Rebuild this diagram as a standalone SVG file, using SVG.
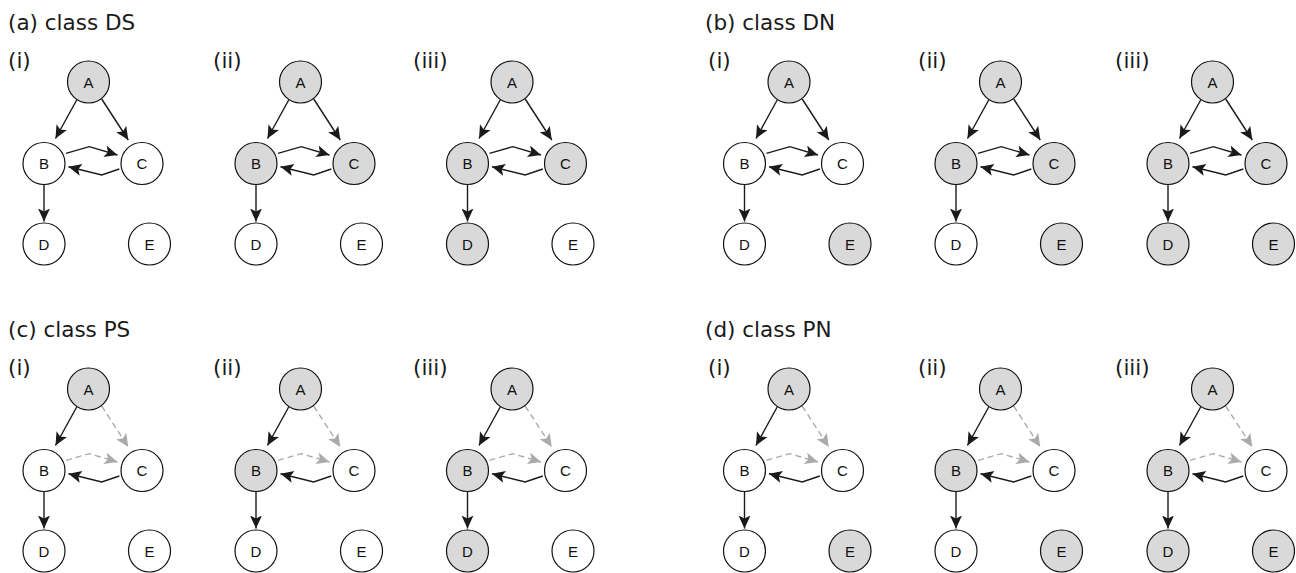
<svg xmlns="http://www.w3.org/2000/svg" xmlns:xlink="http://www.w3.org/1999/xlink" width="1296" height="573" viewBox="0 0 1296 573">
<defs>
<style>
.n circle{stroke:#111;stroke-width:1.2;fill:#fff}
.n.g circle{fill:#d9d9d9}
.n text{font-family:"Liberation Sans",Arial,sans-serif;font-size:15px;text-anchor:middle;fill:#111}
.e{fill:none;stroke:#1a1a1a;stroke-width:1.4;marker-end:url(#arr)}
.e.d{stroke:#aaaaaa;stroke-dasharray:6 4;marker-end:url(#arrg)}
.t{font-family:"DejaVu Sans",Verdana,sans-serif;font-size:21.5px;fill:#1a1a1a}
.s{font-family:"DejaVu Sans",Verdana,sans-serif;font-size:21.5px;fill:#1a1a1a}
</style>
<marker id="arr" markerUnits="userSpaceOnUse" markerWidth="16" markerHeight="14" refX="13" refY="6" orient="auto">
<path d="M0,0 L13,6 L0,12 L3,6 z" fill="#1a1a1a"/>
</marker>
<marker id="arrg" markerUnits="userSpaceOnUse" markerWidth="16" markerHeight="14" refX="13" refY="6" orient="auto">
<path d="M0,0 L13,6 L0,12 L3,6 z" fill="#aaaaaa"/>
</marker>
</defs>
<rect width="1296" height="573" fill="#fff"/>
<g id="titles">
<text class="t" x="8" y="30">(a) class DS</text>
<text class="t" x="705" y="30">(b) class DN</text>
<text class="t" x="8" y="337">(c) class PS</text>
<text class="t" x="705" y="337">(d) class PN</text>
<text class="s" x="8" y="68">(i)</text>
<text class="s" x="213" y="68">(ii)</text>
<text class="s" x="413" y="68">(iii)</text>
<text class="s" x="708" y="68">(i)</text>
<text class="s" x="918" y="68">(ii)</text>
<text class="s" x="1115" y="68">(iii)</text>
<text class="s" x="8" y="375">(i)</text>
<text class="s" x="213" y="375">(ii)</text>
<text class="s" x="413" y="375">(iii)</text>
<text class="s" x="708" y="375">(i)</text>
<text class="s" x="918" y="375">(ii)</text>
<text class="s" x="1115" y="375">(iii)</text>
</g>

<!-- (a) class DS -->
<g id="a1" transform="translate(0,0)">
<g id="a1-edges"><path class="e" d="M76.7,100 L55.5,138.5"/><path class="e" d="M101.7,99 L128.3,140"/><path class="e" d="M66,153.3 L89.3,146.7 L117.5,155"/><path class="e" d="M119.3,169 L101.7,175 L68.5,166.7"/><path class="e" d="M44,183.5 L44,221.5"/></g>
<g id="a1-A" class="n g"><circle cx="88.5" cy="82" r="21"/><text x="88.5" y="87.5">A</text></g>
<g id="a1-B" class="n"><circle cx="44" cy="163.5" r="21"/><text x="44" y="169">B</text></g>
<g id="a1-C" class="n"><circle cx="142" cy="163.5" r="21"/><text x="142" y="169">C</text></g>
<g id="a1-D" class="n"><circle cx="44" cy="244" r="21"/><text x="44" y="249.5">D</text></g>
<g id="a1-E" class="n"><circle cx="149.5" cy="244" r="21"/><text x="149.5" y="249.5">E</text></g>
</g>
<g id="a2" transform="translate(212,0)">
<g id="a2-edges"><path class="e" d="M76.7,100 L55.5,138.5"/><path class="e" d="M101.7,99 L128.3,140"/><path class="e" d="M66,153.3 L89.3,146.7 L117.5,155"/><path class="e" d="M119.3,169 L101.7,175 L68.5,166.7"/><path class="e" d="M44,183.5 L44,221.5"/></g>
<g id="a2-A" class="n g"><circle cx="88.5" cy="82" r="21"/><text x="88.5" y="87.5">A</text></g>
<g id="a2-B" class="n g"><circle cx="44" cy="163.5" r="21"/><text x="44" y="169">B</text></g>
<g id="a2-C" class="n g"><circle cx="142" cy="163.5" r="21"/><text x="142" y="169">C</text></g>
<g id="a2-D" class="n"><circle cx="44" cy="244" r="21"/><text x="44" y="249.5">D</text></g>
<g id="a2-E" class="n"><circle cx="149.5" cy="244" r="21"/><text x="149.5" y="249.5">E</text></g>
</g>
<g id="a3" transform="translate(423.5,0)">
<g id="a3-edges"><path class="e" d="M76.7,100 L55.5,138.5"/><path class="e" d="M101.7,99 L128.3,140"/><path class="e" d="M66,153.3 L89.3,146.7 L117.5,155"/><path class="e" d="M119.3,169 L101.7,175 L68.5,166.7"/><path class="e" d="M44,183.5 L44,221.5"/></g>
<g id="a3-A" class="n g"><circle cx="88.5" cy="82" r="21"/><text x="88.5" y="87.5">A</text></g>
<g id="a3-B" class="n g"><circle cx="44" cy="163.5" r="21"/><text x="44" y="169">B</text></g>
<g id="a3-C" class="n g"><circle cx="142" cy="163.5" r="21"/><text x="142" y="169">C</text></g>
<g id="a3-D" class="n g"><circle cx="44" cy="244" r="21"/><text x="44" y="249.5">D</text></g>
<g id="a3-E" class="n"><circle cx="149.5" cy="244" r="21"/><text x="149.5" y="249.5">E</text></g>
</g>

<!-- (b) class DN -->
<g id="b1" transform="translate(700.5,0)">
<g id="b1-edges"><path class="e" d="M76.7,100 L55.5,138.5"/><path class="e" d="M101.7,99 L128.3,140"/><path class="e" d="M66,153.3 L89.3,146.7 L117.5,155"/><path class="e" d="M119.3,169 L101.7,175 L68.5,166.7"/><path class="e" d="M44,183.5 L44,221.5"/></g>
<g id="b1-A" class="n g"><circle cx="88.5" cy="82" r="21"/><text x="88.5" y="87.5">A</text></g>
<g id="b1-B" class="n"><circle cx="44" cy="163.5" r="21"/><text x="44" y="169">B</text></g>
<g id="b1-C" class="n"><circle cx="142" cy="163.5" r="21"/><text x="142" y="169">C</text></g>
<g id="b1-D" class="n"><circle cx="44" cy="244" r="21"/><text x="44" y="249.5">D</text></g>
<g id="b1-E" class="n g"><circle cx="149.5" cy="244" r="21"/><text x="149.5" y="249.5">E</text></g>
</g>
<g id="b2" transform="translate(912,0)">
<g id="b2-edges"><path class="e" d="M76.7,100 L55.5,138.5"/><path class="e" d="M101.7,99 L128.3,140"/><path class="e" d="M66,153.3 L89.3,146.7 L117.5,155"/><path class="e" d="M119.3,169 L101.7,175 L68.5,166.7"/><path class="e" d="M44,183.5 L44,221.5"/></g>
<g id="b2-A" class="n g"><circle cx="88.5" cy="82" r="21"/><text x="88.5" y="87.5">A</text></g>
<g id="b2-B" class="n g"><circle cx="44" cy="163.5" r="21"/><text x="44" y="169">B</text></g>
<g id="b2-C" class="n g"><circle cx="142" cy="163.5" r="21"/><text x="142" y="169">C</text></g>
<g id="b2-D" class="n"><circle cx="44" cy="244" r="21"/><text x="44" y="249.5">D</text></g>
<g id="b2-E" class="n g"><circle cx="149.5" cy="244" r="21"/><text x="149.5" y="249.5">E</text></g>
</g>
<g id="b3" transform="translate(1124,0)">
<g id="b3-edges"><path class="e" d="M76.7,100 L55.5,138.5"/><path class="e" d="M101.7,99 L128.3,140"/><path class="e" d="M66,153.3 L89.3,146.7 L117.5,155"/><path class="e" d="M119.3,169 L101.7,175 L68.5,166.7"/><path class="e" d="M44,183.5 L44,221.5"/></g>
<g id="b3-A" class="n g"><circle cx="88.5" cy="82" r="21"/><text x="88.5" y="87.5">A</text></g>
<g id="b3-B" class="n g"><circle cx="44" cy="163.5" r="21"/><text x="44" y="169">B</text></g>
<g id="b3-C" class="n g"><circle cx="142" cy="163.5" r="21"/><text x="142" y="169">C</text></g>
<g id="b3-D" class="n g"><circle cx="44" cy="244" r="21"/><text x="44" y="249.5">D</text></g>
<g id="b3-E" class="n g"><circle cx="149.5" cy="244" r="21"/><text x="149.5" y="249.5">E</text></g>
</g>

<!-- (c) class PS -->
<g id="c1" transform="translate(0,307)">
<g id="c1-edges"><path class="e" d="M76.7,100 L55.5,138.5"/><path class="e d" d="M101.7,99 L128.3,140"/><path class="e d" d="M66,153.3 L89.3,146.7 L117.5,155"/><path class="e" d="M119.3,169 L101.7,175 L68.5,166.7"/><path class="e" d="M44,183.5 L44,221.5"/></g>
<g id="c1-A" class="n g"><circle cx="88.5" cy="82" r="21"/><text x="88.5" y="87.5">A</text></g>
<g id="c1-B" class="n"><circle cx="44" cy="163.5" r="21"/><text x="44" y="169">B</text></g>
<g id="c1-C" class="n"><circle cx="142" cy="163.5" r="21"/><text x="142" y="169">C</text></g>
<g id="c1-D" class="n"><circle cx="44" cy="244" r="21"/><text x="44" y="249.5">D</text></g>
<g id="c1-E" class="n"><circle cx="149.5" cy="244" r="21"/><text x="149.5" y="249.5">E</text></g>
</g>
<g id="c2" transform="translate(212,307)">
<g id="c2-edges"><path class="e" d="M76.7,100 L55.5,138.5"/><path class="e d" d="M101.7,99 L128.3,140"/><path class="e d" d="M66,153.3 L89.3,146.7 L117.5,155"/><path class="e" d="M119.3,169 L101.7,175 L68.5,166.7"/><path class="e" d="M44,183.5 L44,221.5"/></g>
<g id="c2-A" class="n g"><circle cx="88.5" cy="82" r="21"/><text x="88.5" y="87.5">A</text></g>
<g id="c2-B" class="n g"><circle cx="44" cy="163.5" r="21"/><text x="44" y="169">B</text></g>
<g id="c2-C" class="n"><circle cx="142" cy="163.5" r="21"/><text x="142" y="169">C</text></g>
<g id="c2-D" class="n"><circle cx="44" cy="244" r="21"/><text x="44" y="249.5">D</text></g>
<g id="c2-E" class="n"><circle cx="149.5" cy="244" r="21"/><text x="149.5" y="249.5">E</text></g>
</g>
<g id="c3" transform="translate(423.5,307)">
<g id="c3-edges"><path class="e" d="M76.7,100 L55.5,138.5"/><path class="e d" d="M101.7,99 L128.3,140"/><path class="e d" d="M66,153.3 L89.3,146.7 L117.5,155"/><path class="e" d="M119.3,169 L101.7,175 L68.5,166.7"/><path class="e" d="M44,183.5 L44,221.5"/></g>
<g id="c3-A" class="n g"><circle cx="88.5" cy="82" r="21"/><text x="88.5" y="87.5">A</text></g>
<g id="c3-B" class="n g"><circle cx="44" cy="163.5" r="21"/><text x="44" y="169">B</text></g>
<g id="c3-C" class="n"><circle cx="142" cy="163.5" r="21"/><text x="142" y="169">C</text></g>
<g id="c3-D" class="n g"><circle cx="44" cy="244" r="21"/><text x="44" y="249.5">D</text></g>
<g id="c3-E" class="n"><circle cx="149.5" cy="244" r="21"/><text x="149.5" y="249.5">E</text></g>
</g>

<!-- (d) class PN -->
<g id="d1" transform="translate(700.5,307)">
<g id="d1-edges"><path class="e" d="M76.7,100 L55.5,138.5"/><path class="e d" d="M101.7,99 L128.3,140"/><path class="e d" d="M66,153.3 L89.3,146.7 L117.5,155"/><path class="e" d="M119.3,169 L101.7,175 L68.5,166.7"/><path class="e" d="M44,183.5 L44,221.5"/></g>
<g id="d1-A" class="n g"><circle cx="88.5" cy="82" r="21"/><text x="88.5" y="87.5">A</text></g>
<g id="d1-B" class="n"><circle cx="44" cy="163.5" r="21"/><text x="44" y="169">B</text></g>
<g id="d1-C" class="n"><circle cx="142" cy="163.5" r="21"/><text x="142" y="169">C</text></g>
<g id="d1-D" class="n"><circle cx="44" cy="244" r="21"/><text x="44" y="249.5">D</text></g>
<g id="d1-E" class="n g"><circle cx="149.5" cy="244" r="21"/><text x="149.5" y="249.5">E</text></g>
</g>
<g id="d2" transform="translate(912,307)">
<g id="d2-edges"><path class="e" d="M76.7,100 L55.5,138.5"/><path class="e d" d="M101.7,99 L128.3,140"/><path class="e d" d="M66,153.3 L89.3,146.7 L117.5,155"/><path class="e" d="M119.3,169 L101.7,175 L68.5,166.7"/><path class="e" d="M44,183.5 L44,221.5"/></g>
<g id="d2-A" class="n g"><circle cx="88.5" cy="82" r="21"/><text x="88.5" y="87.5">A</text></g>
<g id="d2-B" class="n g"><circle cx="44" cy="163.5" r="21"/><text x="44" y="169">B</text></g>
<g id="d2-C" class="n"><circle cx="142" cy="163.5" r="21"/><text x="142" y="169">C</text></g>
<g id="d2-D" class="n"><circle cx="44" cy="244" r="21"/><text x="44" y="249.5">D</text></g>
<g id="d2-E" class="n g"><circle cx="149.5" cy="244" r="21"/><text x="149.5" y="249.5">E</text></g>
</g>
<g id="d3" transform="translate(1124,307)">
<g id="d3-edges"><path class="e" d="M76.7,100 L55.5,138.5"/><path class="e d" d="M101.7,99 L128.3,140"/><path class="e d" d="M66,153.3 L89.3,146.7 L117.5,155"/><path class="e" d="M119.3,169 L101.7,175 L68.5,166.7"/><path class="e" d="M44,183.5 L44,221.5"/></g>
<g id="d3-A" class="n g"><circle cx="88.5" cy="82" r="21"/><text x="88.5" y="87.5">A</text></g>
<g id="d3-B" class="n g"><circle cx="44" cy="163.5" r="21"/><text x="44" y="169">B</text></g>
<g id="d3-C" class="n"><circle cx="142" cy="163.5" r="21"/><text x="142" y="169">C</text></g>
<g id="d3-D" class="n g"><circle cx="44" cy="244" r="21"/><text x="44" y="249.5">D</text></g>
<g id="d3-E" class="n g"><circle cx="149.5" cy="244" r="21"/><text x="149.5" y="249.5">E</text></g>
</g>
</svg>
